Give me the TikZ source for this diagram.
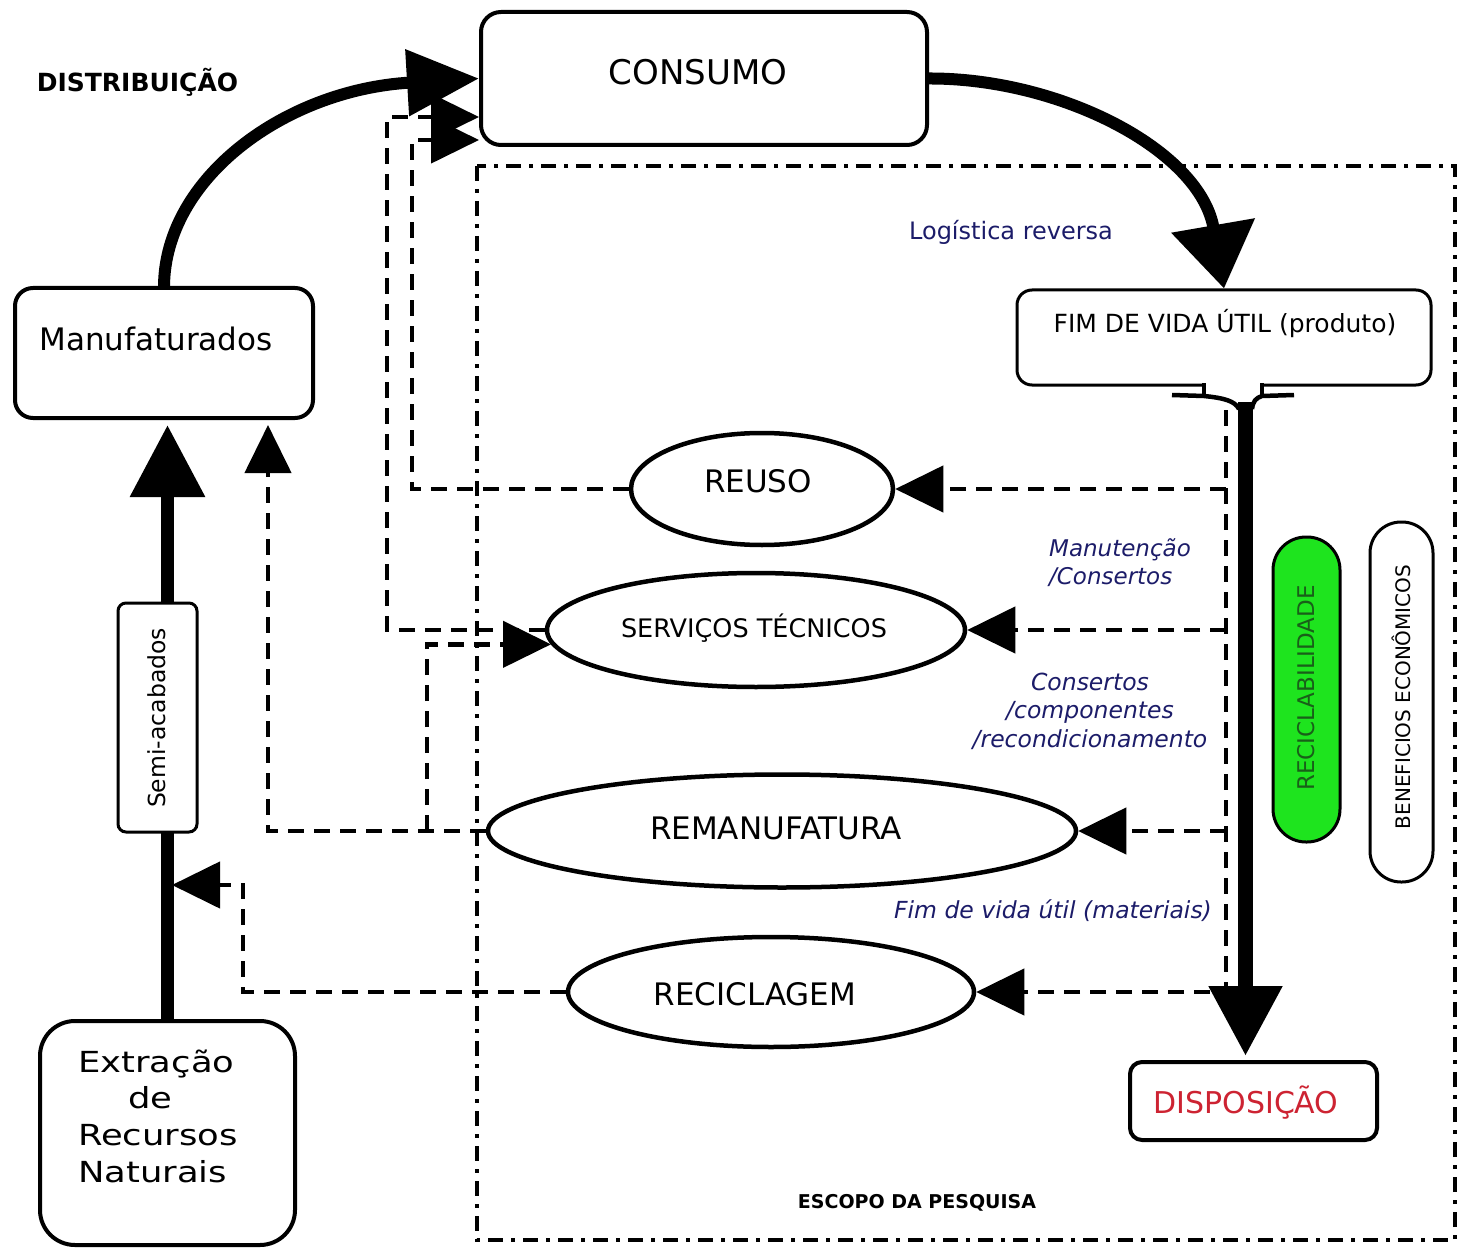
\documentclass[tikz,border=0pt]{standalone}
\usepackage{fontspec}
\setmainfont{DejaVu Sans}[ItalicFont={DejaVu Sans Oblique},BoldFont={DejaVu Sans Bold}]
\usepackage{graphicx}
\usetikzlibrary{arrows.meta,shapes.geometric,calc}
\definecolor{navy}{RGB}{28,28,105}
\definecolor{dispred}{RGB}{205,35,50}
\definecolor{rgreen}{RGB}{30,228,30}
\definecolor{dgreen}{RGB}{25,95,25}
\newcommand{\fsz}[1]{\fontsize{#1}{#1}\selectfont}
\begin{document}
\begin{tikzpicture}[x=1pt,y=-1pt,
  box/.style={draw, line width=4pt, rounded corners=#1, fill=white, inner sep=0pt},
  box/.default=18pt,
  ell/.style={draw, ellipse, line width=4.5pt, fill=white, inner sep=0pt},
  txt/.style={inner sep=0pt},
  lbl/.style={inner sep=0pt, text=navy},
  bigarrow/.style={line width=12pt},
  dashln/.style={line width=4.5pt, dash pattern=on 16pt off 10pt},
  tipS/.style={-{Triangle[length=48pt,width=46pt]}},
  frame/.style={line width=3.5pt, dash pattern=on 15pt off 8pt on 4pt off 8pt},
  funnel/.style={line width=4.5pt}
]
\fill[white] (0,0) rectangle (1459,1249);
\path[use as bounding box] (0,0) rectangle (1459,1249);

% scope frame
\draw[frame] (477,166) rectangle (1455,1240);

% boxes
\node[box=20pt, minimum width=446pt, minimum height=133pt] (cons) at (704,78.5) {};
\node[txt, font=\fsz{34}, anchor=base] (consT) at (698,85) {CONSUMO};
\node[box=18pt, minimum width=298pt, minimum height=130pt] (manu) at (164,353) {};
\node[txt, font=\fsz{31}, anchor=base] (manuT) at (156,350) {Manufaturados};
\node[box=35pt, minimum width=255pt, minimum height=224pt] (ext) at (167.5,1133) {};
\node[txt, font=\fontsize{29}{36.7}\selectfont, anchor=base west] (extT) at (78,1072)
  {\scalebox{1.22}[1]{\begin{tabular}[t]{@{}l@{}}Extração\\\hspace*{41pt}de\\Recursos\\Naturais\end{tabular}}};
\node[box=15pt, line width=3pt, minimum width=414pt, minimum height=95pt] (fim) at (1224,337.5) {};
\node[txt, font=\fsz{25}, anchor=base] (fimT) at (1225,333) {FIM DE VIDA ÚTIL (produto)};
\node[box=12pt, minimum width=247pt, minimum height=78pt] (disp) at (1253.5,1101) {};
\node[txt, font=\fsz{30}, text=dispred, anchor=base] (dispT) at (1246,1113) {DISPOSIÇÃO};

% ellipses
\node[ell, minimum width=262pt, minimum height=112pt] (reuso) at (762,489) {};
\node[txt, font=\fsz{31}, anchor=base] (reusoT) at (758,492) {REUSO};
\node[ell, minimum width=418pt, minimum height=114pt] (serv) at (756,630) {};
\node[txt, font=\fsz{25.5}, anchor=base] (servT) at (754,637) {SERVIÇOS TÉCNICOS};
\node[ell, minimum width=588pt, minimum height=113pt] (reman) at (782,831) {};
\node[txt, font=\fsz{31}, anchor=base] (remanT) at (776,839) {REMANUFATURA};
\node[ell, minimum width=406pt, minimum height=110pt] (recic) at (771,992) {};
\node[txt, font=\fsz{31}, anchor=base] (recicT) at (755,1005) {RECICLAGEM};

% capsules
\node[draw, line width=3pt, fill=rgreen, rounded corners=33pt, minimum width=67pt, minimum height=305pt, inner sep=0pt] (recb) at (1306.5,689.5) {};
\node[txt, font=\fsz{23}, text=dgreen, rotate=90] (recbT) at (1306,688) {RECICLABILIDADE};
\node[draw, line width=3pt, fill=white, rounded corners=31pt, minimum width=63pt, minimum height=360pt, inner sep=0pt] (benef) at (1401.5,702) {};
\node[txt, font=\fsz{20}, rotate=90] (benefT) at (1401,697) {BENEFICIOS ECONÔMICOS};

% free labels
\node[txt, font=\bfseries\fsz{25}, anchor=base] (distT) at (137.5,92) {DISTRIBUIÇÃO};
\node[txt, font=\bfseries\fsz{19}, anchor=base] (escT) at (917,1208) {ESCOPO DA PESQUISA};
\node[lbl, font=\fsz{24}, anchor=base] (logT) at (1011,240) {Logística reversa};
\node[lbl, font=\itshape\fontsize{23}{28}\selectfont, align=left] (manutT) at (1120,563) {Manutenção\\/Consertos};
\node[lbl, font=\itshape\fontsize{23.5}{28.5}\selectfont, align=center] (consertT) at (1090,711) {Consertos\\/componentes\\/recondicionamento};
\node[lbl, font=\itshape\fsz{23.5}, anchor=base] (fimmT) at (1053,918) {Fim de vida útil (materiais)};

% main solid flows
\draw[bigarrow, -{Triangle[length=72pt,width=64pt]}] (manu.north) .. controls (165,178) and (285,90) .. (cons.west);
\draw[bigarrow, -{Triangle[length=64pt,width=82pt]}] (cons.east) .. controls (1060,78) and (1200,150) .. (fim.north);
\draw[bigarrow, line width=13pt, -{Triangle[length=72pt,width=72pt]}, shorten >=5pt] (ext.north) -- (ext.north |- manu.south);
\node[box=8pt, line width=3pt, minimum width=79pt, minimum height=229pt] (semi) at (157.5,717.5) {};
\node[txt, font=\fsz{23.5}, rotate=90] (semiT) at (157,718) {Semi-acabados};

% funnel + stem to DISPOSICAO
\fill[white] (1206,379) rectangle (1260,392);
\draw[funnel] (1204,383) -- (1204,396);
\draw[funnel] (1262,383) -- (1262,396);
\draw[funnel] (1172,395) -- (1204,396) .. controls (1224,398) and (1235,401) .. (1239,409);
\draw[funnel] (1294,395) -- (1262,396) .. controls (1256,398) and (1253,401) .. (1252,409);
\coordinate (stemtop) at (1245.5,402);
\draw[line width=15pt, -{Triangle[length=70pt,width=70pt]}, shorten >=4pt] (stemtop) -- (stemtop |- disp.north);

% dashed return flows (left)
\coordinate (c1) at (412,140);
\coordinate (c2) at (387,117);
\coordinate (c3) at (268,831);
\coordinate (c4) at (427,831);
\coordinate (c5) at (243,993);
\coordinate (semin) at (172,885);
\draw[dashln, tipS] (reuso.west) -- (reuso.west -| c1) -- (c1) -- (c1 -| cons.west);
\draw[dashln, tipS] (serv.west) -- (serv.west -| c2) -- (c2) -- (c2 -| cons.west);
\draw[dashln, tipS, shorten >=5pt] (reman.west) -- (reman.west -| c3) -- (c3 |- manu.south);
\draw[dashln, tipS] (reman.west -| c4) -- (c4 |- serv.184) -- (serv.184);
\draw[dashln, tipS] (recic.west) -- (recic.west -| c5) -- (c5 |- semin) -- (semin);

% dashed flows (right)
\coordinate (dtop) at (1226,410);
\draw[dashln, tipS] (dtop) -- (dtop |- recic.east) -- (recic.east);
\draw[dashln, tipS] (dtop |- reuso.east) -- (reuso.east);
\draw[dashln, tipS] (dtop |- serv.east) -- (serv.east);
\draw[dashln, tipS] (dtop |- reman.east) -- (reman.east);
\end{tikzpicture}
\end{document}
